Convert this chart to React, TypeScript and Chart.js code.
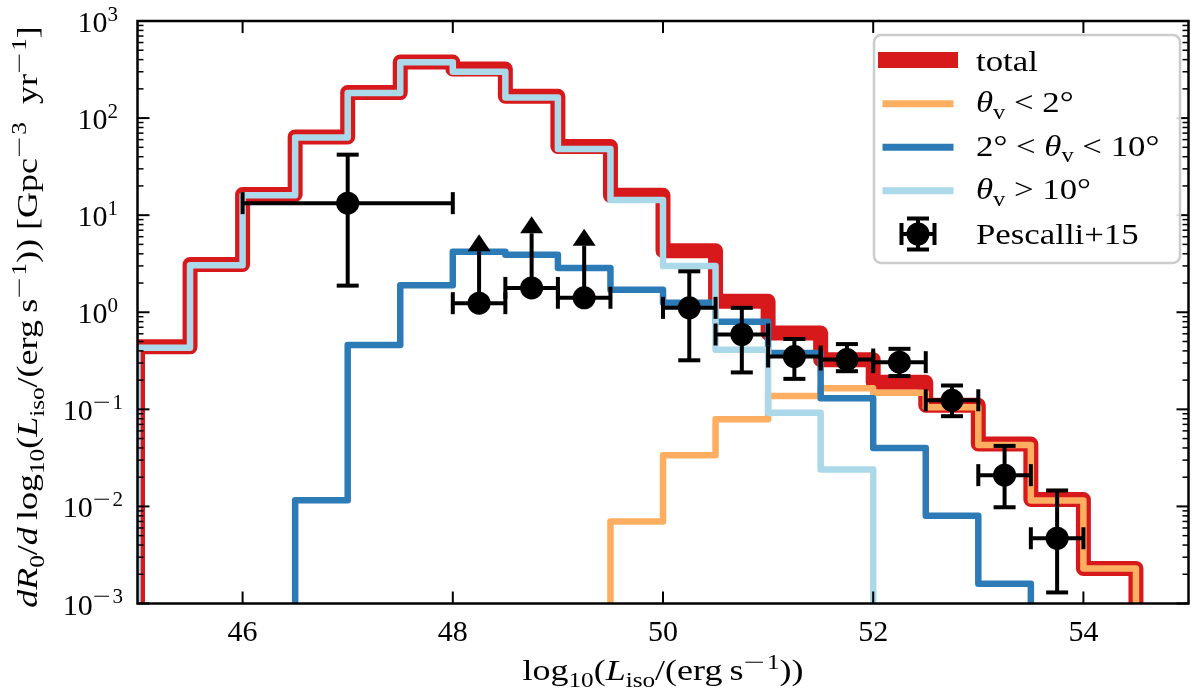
import React, { useEffect, useRef } from 'react';
import { Chart, registerables } from 'chart.js';

Chart.register(...registerables);

// ---------------- data ----------------
const binEdges = [45, 45.5, 46, 46.5, 47, 47.5, 48, 48.5, 49, 49.5, 50, 50.5, 51, 51.5, 52, 52.5, 53, 53.5, 54, 54.5];

// rates per bin (bins 45-45.5 ... 54-54.5)
const rateTotal = [0.44, 3.1, 16.3, 64, 183, 378, 320, 168, 51, 16, 4.3, 1.3, 0.61, 0.325, 0.19, 0.11, 0.044, 0.0118, 0.0023];
const rateBelow2 = [0, 0, 0, 0, 0, 0, 0, 0, 0, 0.007, 0.0336, 0.079, 0.137, 0.165, 0.148, 0.105, 0.043, 0.0115, 0.0023];
const rate2to10 = [0, 0, 0, 0.0116, 0.46, 1.9, 4.2, 3.9, 2.85, 1.71, 1.25, 0.8, 0.38, 0.13, 0.04, 0.008, 0.0016, 0, 0];
const rateAbove10 = [0.43, 3.05, 16, 63, 181, 375, 300, 163, 48, 14.3, 3.0, 0.41, 0.092, 0.024, 0, 0, 0, 0, 0];

// Pescalli+15 points
const obsX = [47, 48.25, 48.75, 49.25, 50.25, 50.75, 51.25, 51.75, 52.25, 52.75, 53.25, 53.75];
const obsXErr = [1, 0.25, 0.25, 0.25, 0.25, 0.25, 0.25, 0.25, 0.25, 0.25, 0.25, 0.25];
const obsY = [13.3, 1.24, 1.78, 1.41, 1.11, 0.59, 0.35, 0.326, 0.306, 0.124, 0.021, 0.0047];
const obsYLow = [1.88, null, null, null, 0.32, 0.24, 0.206, 0.247, 0.22, 0.085, 0.0098, 0.0013];
const obsYHigh = [42, 4.25, 6.5, 4.85, 2.64, 1.11, 0.53, 0.47, 0.42, 0.176, 0.042, 0.0146];
const obsLowerLimit = [false, true, true, true, false, false, false, false, false, false, false, false];

// ticks
const xTickValues = [46, 48, 50, 52, 54];
const yTickExponents = [-3, -2, -1, 0, 1, 2, 3];

const X_MIN = 45;
const X_MAX = 55;
const Y_MIN = 1e-3;
const Y_MAX = 1e3;
const FLOOR = 1e-6;

const C_TOTAL = '#d7191c';
const C_LOW = '#fdae61';
const C_MID = '#2c7bb6';
const C_HIGH = '#abd9e9';

const FONT = '"Liberation Serif", "Times New Roman", serif';
const FS = 30;

// ---------------- helpers ----------------
function stepPoints(values: number[]) {
  const first = values.findIndex((v) => v > 0);
  let last = values.length - 1;
  while (last >= 0 && !(values[last] > 0)) last--;
  const pts: { x: number; y: number }[] = [{ x: binEdges[first], y: FLOOR }];
  for (let i = first; i <= last; i++) pts.push({ x: binEdges[i], y: values[i] });
  pts.push({ x: binEdges[last + 1], y: values[last] });
  pts.push({ x: binEdges[last + 1], y: FLOOR });
  return pts;
}

type Seg = { t: string; it?: boolean; k?: 'sub' | 'sup'; sx?: number; pad?: number };

function segFont(s: Seg, size: number) {
  const sz = s.k ? size * 0.7 : size;
  return `${s.it ? 'italic ' : ''}${sz}px ${FONT}`;
}

function segWidth(ctx: CanvasRenderingContext2D, s: Seg, size: number, gsx: number) {
  ctx.font = segFont(s, size);
  return ctx.measureText(s.t).width * (s.sx || 1) * gsx + (s.pad || 0);
}

function drawRich(
  ctx: CanvasRenderingContext2D,
  segs: Seg[],
  x: number,
  y: number,
  size: number,
  align: 'left' | 'center' | 'right',
  gsx = 1
) {
  let w = 0;
  for (const s of segs) w += segWidth(ctx, s, size, gsx);
  let cx = align === 'left' ? x : align === 'center' ? x - w / 2 : x - w;
  ctx.textAlign = 'left';
  ctx.textBaseline = 'alphabetic';
  for (const s of segs) {
    const dy = s.k === 'sub' ? size * 0.22 : s.k === 'sup' ? -size * 0.37 : 0;
    ctx.font = segFont(s, size);
    ctx.save();
    ctx.translate(cx, y + dy);
    ctx.scale((s.sx || 1) * gsx, 1);
    ctx.fillText(s.t, 0, 0);
    ctx.restore();
    cx += segWidth(ctx, s, size, gsx);
  }
}

function supPower(n: number): Seg[] {
  if (n < 0) return [{ t: '\u2212', k: 'sup', sx: 1.5, pad: 2 }, { t: String(-n), k: 'sup' }];
  return [{ t: String(n), k: 'sup' }];
}

const thin = '\u2009';

const xLabelSegs: Seg[] = [
  { t: 'log' },
  { t: '10', k: 'sub' },
  { t: '(' },
  { t: 'L', it: true },
  { t: 'iso', k: 'sub' },
  { t: '/(erg' + thin + 's' },
  ...supPower(-1),
  { t: '))' },
];

const yLabelSegs: Seg[] = [
  { t: 'dR', it: true },
  { t: '0', k: 'sub' },
  { t: '/' },
  { t: 'd', it: true },
  { t: thin + 'log' },
  { t: '10', k: 'sub' },
  { t: '(' },
  { t: 'L', it: true },
  { t: 'iso', k: 'sub' },
  { t: '/(erg' + thin + 's' },
  ...supPower(-1),
  { t: ')) [Gpc' },
  ...supPower(-3),
  { t: '  yr' },
  ...supPower(-1),
  { t: ']' },
];

const legendLabels: Seg[][] = [
  [{ t: 'total' }],
  [{ t: '\u03b8', it: true }, { t: 'v', k: 'sub' }, { t: ' < 2°' }],
  [{ t: '2° < ' }, { t: '\u03b8', it: true }, { t: 'v', k: 'sub' }, { t: ' < 10°' }],
  [{ t: '\u03b8', it: true }, { t: 'v', k: 'sub' }, { t: ' > 10°' }],
  [{ t: 'Pescalli+15' }],
];

// ---------------- plugins ----------------
const errorBarPlugin = {
  id: 'errorBars',
  beforeDatasetDraw(chart: any, args: any) {
    if (chart.data.datasets[args.index].label !== 'Pescalli+15') return;
    const ctx: CanvasRenderingContext2D = chart.ctx;
    const xs = chart.scales.x;
    const ys = chart.scales.y;
    const cap = 11;
    ctx.save();
    ctx.strokeStyle = '#000';
    ctx.fillStyle = '#000';
    ctx.lineWidth = 4;
    ctx.lineCap = 'butt';
    const line = (x1: number, y1: number, x2: number, y2: number) => {
      ctx.beginPath();
      ctx.moveTo(x1, y1);
      ctx.lineTo(x2, y2);
      ctx.stroke();
    };
    for (let i = 0; i < obsX.length; i++) {
      const px = xs.getPixelForValue(obsX[i]);
      const py = ys.getPixelForValue(obsY[i]);
      const xl = xs.getPixelForValue(obsX[i] - obsXErr[i]);
      const xr = xs.getPixelForValue(obsX[i] + obsXErr[i]);
      line(xl, py, xr, py);
      line(xl, py - cap, xl, py + cap);
      line(xr, py - cap, xr, py + cap);
      if (obsLowerLimit[i]) {
        const pb = ys.getPixelForValue(obsYHigh[i]);
        line(px, py, px, pb);
        ctx.beginPath();
        ctx.moveTo(px - 11.5, pb);
        ctx.lineTo(px + 11.5, pb);
        ctx.lineTo(px, pb - 17);
        ctx.closePath();
        ctx.fill();
      } else {
        const pt = ys.getPixelForValue(obsYHigh[i]);
        const pl = ys.getPixelForValue(obsYLow[i] as number);
        line(px, pl, px, pt);
        line(px - cap, pt, px + cap, pt);
        line(px - cap, pl, px + cap, pl);
      }
    }
    ctx.restore();
  },
};

const axesPlugin = {
  id: 'axesDecor',
  afterDraw(chart: any) {
    const ctx: CanvasRenderingContext2D = chart.ctx;
    const ca = chart.chartArea;
    const xs = chart.scales.x;
    const ys = chart.scales.y;
    ctx.save();
    ctx.strokeStyle = '#000';
    ctx.fillStyle = '#000';
    ctx.lineCap = 'butt';
    const line = (x1: number, y1: number, x2: number, y2: number) => {
      ctx.beginPath();
      ctx.moveTo(x1, y1);
      ctx.lineTo(x2, y2);
      ctx.stroke();
    };
    // major ticks
    ctx.lineWidth = 2;
    for (const v of xTickValues) {
      const px = xs.getPixelForValue(v);
      line(px, ca.bottom, px, ca.bottom - 12);
      line(px, ca.top, px, ca.top + 12);
    }
    for (const e of yTickExponents) {
      const py = ys.getPixelForValue(Math.pow(10, e));
      line(ca.left, py, ca.left + 12, py);
      line(ca.right, py, ca.right - 12, py);
    }
    // minor ticks
    ctx.lineWidth = 1.5;
    for (let e = -3; e < 3; e++) {
      for (let m = 2; m <= 9; m++) {
        const py = ys.getPixelForValue(m * Math.pow(10, e));
        line(ca.left, py, ca.left + 6, py);
        line(ca.right, py, ca.right - 6, py);
      }
    }
    // frame
    ctx.lineWidth = 2.5;
    ctx.strokeRect(ca.left, ca.top, ca.right - ca.left, ca.bottom - ca.top);

    // tick labels
    for (const v of xTickValues) {
      const px = xs.getPixelForValue(v);
      drawRich(ctx, [{ t: String(v) }], px, 641, FS, 'center');
    }
    for (const e of yTickExponents) {
      const py = ys.getPixelForValue(Math.pow(10, e));
      drawRich(ctx, [{ t: '10' }, ...supPower(e)], e < 0 ? 123 : 118, py + 11, FS, 'right');
    }

    // axis labels
    drawRich(ctx, xLabelSegs, (ca.left + ca.right) / 2, 680, FS, 'center', 1.2);
    ctx.save();
    ctx.translate(37, 317);
    ctx.rotate(-Math.PI / 2);
    drawRich(ctx, yLabelSegs, 0, 0, FS, 'center', 1.2);
    ctx.restore();

    // legend
    const bx = 874, by = 35, bw = 306, bh = 228, r = 7;
    ctx.beginPath();
    ctx.moveTo(bx + r, by);
    ctx.arcTo(bx + bw, by, bx + bw, by + bh, r);
    ctx.arcTo(bx + bw, by + bh, bx, by + bh, r);
    ctx.arcTo(bx, by + bh, bx, by, r);
    ctx.arcTo(bx, by, bx + bw, by, r);
    ctx.closePath();
    ctx.fillStyle = 'rgba(255,255,255,0.85)';
    ctx.fill();
    ctx.strokeStyle = '#cccccc';
    ctx.lineWidth = 2.5;
    ctx.stroke();

    const rows = [60, 103.7, 147.3, 190.7, 234];
    const handleColors = [C_TOTAL, C_LOW, C_MID, C_HIGH];
    const handleWidths = [16, 7, 7, 7];
    ctx.lineCap = 'square';
    for (let i = 0; i < 4; i++) {
      ctx.strokeStyle = handleColors[i];
      ctx.lineWidth = handleWidths[i];
      line(886, rows[i], 950, rows[i]);
    }
    // errorbar handle
    ctx.lineCap = 'butt';
    ctx.strokeStyle = '#000';
    ctx.fillStyle = '#000';
    ctx.lineWidth = 4;
    const hx = 918, hy = rows[4];
    line(hx - 16.5, hy, hx + 16.5, hy);
    line(hx - 16.5, hy - 11, hx - 16.5, hy + 11);
    line(hx + 16.5, hy - 11, hx + 16.5, hy + 11);
    line(hx, hy - 15.5, hx, hy + 15.5);
    line(hx - 11, hy - 15.5, hx + 11, hy - 15.5);
    line(hx - 11, hy + 15.5, hx + 11, hy + 15.5);
    ctx.beginPath();
    ctx.arc(hx, hy, 11.5, 0, Math.PI * 2);
    ctx.fill();

    const baseOff = [11, 8.5, 8.5, 8.5, 9.5];
    for (let i = 0; i < legendLabels.length; i++) {
      drawRich(ctx, legendLabels[i], 976, rows[i] + baseOff[i], FS, 'left', 1.16);
    }
    ctx.restore();
  },
};

// ---------------- component ----------------
function lineDataset(label: string, values: number[], color: string, width: number, order: number) {
  return {
    label,
    data: stepPoints(values),
    borderColor: color,
    backgroundColor: color,
    borderWidth: width,
    stepped: true,
    pointRadius: 0,
    pointHoverRadius: 0,
    fill: false,
    tension: 0,
    clip: 0,
    borderJoinStyle: 'round' as const,
    borderCapStyle: 'butt' as const,
    order,
  };
}

export default function App() {
  const canvasRef = useRef<HTMLCanvasElement | null>(null);

  useEffect(() => {
    document.body.style.margin = '0';
    const canvas = canvasRef.current;
    if (!canvas) return;
    const chart = new Chart(canvas, {
      type: 'line',
      data: {
        datasets: [
          lineDataset('total', rateTotal, C_TOTAL, 15, 5),
          lineDataset('θv < 2°', rateBelow2, C_LOW, 6.5, 4),
          lineDataset('2° < θv < 10°', rate2to10, C_MID, 6.5, 3),
          lineDataset('θv > 10°', rateAbove10, C_HIGH, 6.5, 2),
          {
            label: 'Pescalli+15',
            data: obsX.map((x, i) => ({ x, y: obsY[i] })),
            showLine: false,
            pointRadius: 11.5,
            pointHoverRadius: 11.5,
            pointBackgroundColor: '#000',
            pointBorderColor: '#000',
            pointBorderWidth: 0,
            borderColor: '#000',
            backgroundColor: '#000',
            clip: false as any,
            order: 1,
          } as any,
        ],
      },
      options: {
        animation: false,
        responsive: false,
        devicePixelRatio: 1,
        events: [],
        layout: { padding: { left: 137.5, right: 4.5, top: 21, bottom: 91.5 } },
        plugins: {
          legend: { display: false },
          tooltip: { enabled: false },
        },
        scales: {
          x: { type: 'linear', min: X_MIN, max: X_MAX, display: false },
          y: { type: 'logarithmic', min: Y_MIN, max: Y_MAX, display: false },
        },
      },
      plugins: [errorBarPlugin, axesPlugin],
    } as any);
    return () => chart.destroy();
  }, []);

  return (
    <div style={{ width: 1200, height: 695, background: '#fff' }}>
      <canvas ref={canvasRef} width={1200} height={695} style={{ display: 'block' }} />
    </div>
  );
}
